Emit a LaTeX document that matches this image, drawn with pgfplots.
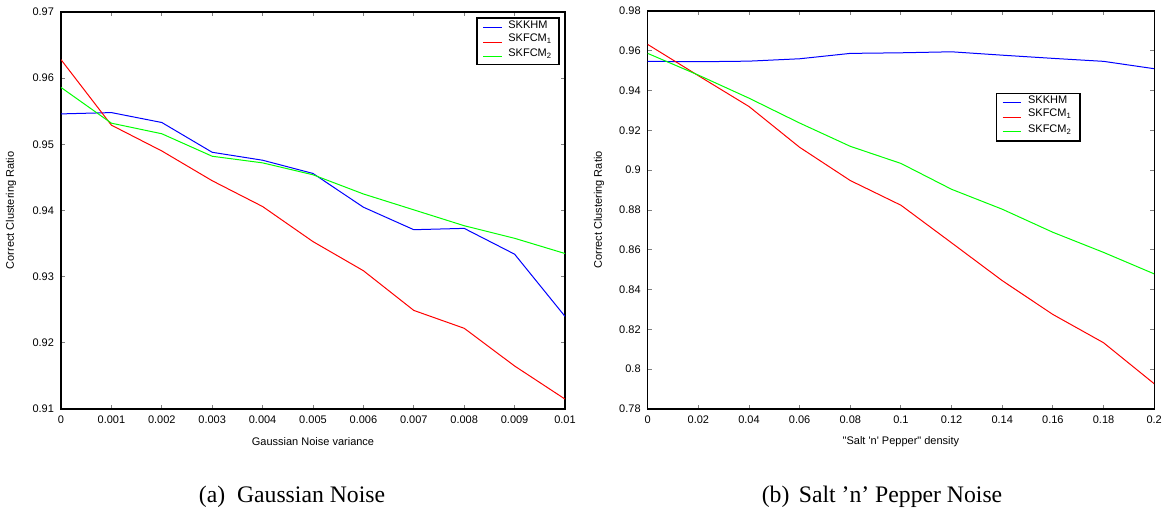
\documentclass[border=0pt]{standalone}
\usepackage{fontspec}
\setmainfont{Liberation Serif}
\newfontfamily\arial{Liberation Sans}
\usepackage{pgfplots}
\usepackage{pgfplotstable}
\pgfplotsset{compat=1.18}
\definecolor{mblue}{rgb}{0,0,1}
\definecolor{mred}{rgb}{1,0,0}
\definecolor{mgreen}{rgb}{0,1,0}

\pgfplotstableread{
x      skkhm   skfcma  skfcmb
0      0.9546  0.9628  0.9586
0.001  0.9548  0.9529  0.9532
0.002  0.9533  0.9490  0.9516
0.003  0.9488  0.9445  0.9482
0.004  0.9476  0.9406  0.9472
0.005  0.9456  0.9353  0.9454
0.006  0.9405  0.9309  0.9425
0.007  0.9371  0.9249  0.9401
0.008  0.9373  0.9222  0.9377
0.009  0.9334  0.9165  0.9358
0.010  0.9240  0.9115  0.9335
}\gaussdata

\pgfplotstableread{
x      skkhm   skfcma  skfcmb
0      0.9547  0.9632  0.9587
0.02   0.9545  0.9475  0.9478
0.04   0.9548  0.9320  0.9362
0.06   0.9560  0.9115  0.9237
0.08   0.9587  0.8948  0.9120
0.10   0.9590  0.8824  0.9034
0.12   0.9595  0.8635  0.8904
0.14   0.9578  0.8445  0.8804
0.16   0.9562  0.8275  0.8688
0.18   0.9547  0.8133  0.8587
0.20   0.9510  0.7927  0.8479
}\saltdata

\newcommand\legfont{\arial\fontsize{5.5}{6.6}\selectfont}

\pgfplotsset{
  mstyle/.style={
    scale only axis,
    axis line style={line width=0.6pt},
    tick align=inside,
    major tick length=2.2pt,
    tick style={line width=0.5pt},
    every tick label/.append style={font=\arial\fontsize{5.5}{6.6}\selectfont},
    /pgf/number format/assume math mode=true,
    /pgf/number format/fixed,
    scaled x ticks=false, scaled y ticks=false,
    label style={font=\arial\fontsize{5.5}{6.6}\selectfont},
    every axis plot/.append style={line width=0.5pt, no markers},
  }
}

\begin{document}
\begin{tikzpicture}
\useasboundingbox (0,0) rectangle (583.5pt,-257pt);

\begin{axis}[mstyle,
  at={(30.5pt,-204.5pt)}, anchor=south west,
  width=252pt, height=198.5pt,
  xmin=0, xmax=0.01, ymin=0.91, ymax=0.97,
  xtick={0,0.001,0.002,0.003,0.004,0.005,0.006,0.007,0.008,0.009,0.01},
  ytick={0.91,0.92,0.93,0.94,0.95,0.96,0.97},
  xticklabel style={/pgf/number format/precision=3},
  yticklabel style={/pgf/number format/precision=2},
  xlabel={Gaussian Noise variance},
  ylabel={Correct Clustering Ratio},
  xlabel style={at={(axis description cs:0.5,-0.0831)}, anchor=center},
  ylabel style={at={(axis description cs:-0.0992,0.5)}, anchor=center},
]
\addplot[color=mblue] table[x=x, y=skkhm] {\gaussdata};
\addplot[color=mred] table[x=x, y=skfcma] {\gaussdata};
\addplot[color=mgreen] table[x=x, y=skfcmb] {\gaussdata};
% legend
\draw[line width=0.6pt, fill=white] (axis description cs:0.8254,0.8672) rectangle (axis description cs:0.9881,0.9849);
\draw[mblue, line width=0.5pt] (axis description cs:0.8379,0.9622) -- (axis description cs:0.8744,0.9622);
\draw[mred, line width=0.5pt] (axis description cs:0.8379,0.9244) -- (axis description cs:0.8744,0.9244);
\draw[mgreen, line width=0.5pt] (axis description cs:0.8379,0.8873) -- (axis description cs:0.8744,0.8873);
\node[anchor=base west, inner sep=0pt, font=\legfont] at (axis description cs:0.8869,0.958) {SKKHM};
\node[anchor=base west, inner sep=0pt, font=\legfont] at (axis description cs:0.8869,0.926) {SKFCM\textsubscript{1}};
\node[anchor=base west, inner sep=0pt, font=\legfont] at (axis description cs:0.8869,0.8867) {SKFCM\textsubscript{2}};
\end{axis}

\begin{axis}[mstyle,
  at={(323.85pt,-204.5pt)}, anchor=south west,
  width=253.25pt, height=199pt,
  xmin=0, xmax=0.2, ymin=0.78, ymax=0.98,
  xtick={0,0.02,0.04,0.06,0.08,0.1,0.12,0.14,0.16,0.18,0.2},
  ytick={0.78,0.8,0.82,0.84,0.86,0.88,0.9,0.92,0.94,0.96,0.98},
  xticklabel style={/pgf/number format/precision=2},
  yticklabel style={/pgf/number format/precision=2},
  xlabel={\textquotedbl Salt \textquotesingle n\textquotesingle{} Pepper\textquotedbl{} density},
  ylabel={Correct Clustering Ratio},
  xlabel style={at={(axis description cs:0.5,-0.0829)}, anchor=center},
  ylabel style={at={(axis description cs:-0.0962,0.5)}, anchor=center},
]
\addplot[color=mblue] table[x=x, y=skkhm] {\saltdata};
\addplot[color=mred] table[x=x, y=skfcma] {\saltdata};
\addplot[color=mgreen] table[x=x, y=skfcmb] {\saltdata};
% legend
\draw[line width=0.6pt, fill=white] (axis description cs:0.689,0.6734) rectangle (axis description cs:0.8536,0.7932);
\draw[mblue, line width=0.5pt] (axis description cs:0.7009,0.7706) -- (axis description cs:0.7372,0.7706);
\draw[mred, line width=0.5pt] (axis description cs:0.7009,0.7329) -- (axis description cs:0.7372,0.7329);
\draw[mgreen, line width=0.5pt] (axis description cs:0.7009,0.6960) -- (axis description cs:0.7372,0.6960);
\node[anchor=base west, inner sep=0pt, font=\legfont] at (axis description cs:0.7502,0.7665) {SKKHM};
\node[anchor=base west, inner sep=0pt, font=\legfont] at (axis description cs:0.7502,0.7345) {SKFCM\textsubscript{1}};
\node[anchor=base west, inner sep=0pt, font=\legfont] at (axis description cs:0.7502,0.6954) {SKFCM\textsubscript{2}};
\end{axis}

\node[font=\fontsize{11.85}{14}\selectfont, anchor=center] at (146pt,-248.3pt) {(a)\hspace{0.5em}Gaussian Noise};
\node[font=\fontsize{11.85}{14}\selectfont, anchor=center] at (441pt,-248.3pt) {(b)\hspace{0.4em}Salt ’n’ Pepper Noise};
\end{tikzpicture}
\end{document}
